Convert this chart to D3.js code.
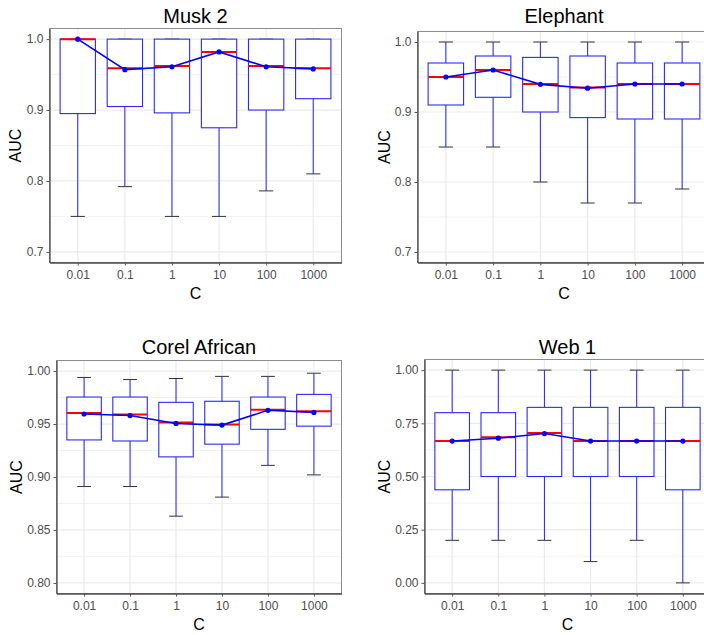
<!DOCTYPE html>
<html>
<head>
<meta charset="utf-8">
<script src="https://cdn.jsdelivr.net/npm/d3@7"></script>
<style>
  body { margin: 0; background: #fff; }
  text { font-family: "Liberation Sans", Arial, sans-serif; }
</style>
</head>
<body>
<script>
var cLevels = ["0.01", "0.1", "1", "10", "100", "1000"];

// Musk 2
var musk2Low    = [0.75, 0.792, 0.75, 0.75, 0.786, 0.81];
var musk2Q1     = [0.895, 0.905, 0.896, 0.875, 0.900, 0.916];
var musk2Median = [1.0, 0.959, 0.962, 0.982, 0.962, 0.959];
var musk2Q3     = [1.0, 1.0, 1.0, 1.0, 1.0, 1.0];
var musk2High   = [1.0, 1.0, 1.0, 1.0, 1.0, 1.0];
var musk2Mean   = [1.0, 0.957, 0.961, 0.982, 0.961, 0.958];

// Elephant
var elephantLow    = [0.85, 0.85, 0.80, 0.77, 0.77, 0.79];
var elephantQ1     = [0.91, 0.921, 0.90, 0.892, 0.89, 0.89];
var elephantMedian = [0.95, 0.96, 0.94, 0.935, 0.94, 0.94];
var elephantQ3     = [0.97, 0.98, 0.978, 0.98, 0.97, 0.97];
var elephantHigh   = [1.0, 1.0, 1.0, 1.0, 1.0, 1.0];
var elephantMean   = [0.95, 0.96, 0.9395, 0.934, 0.94, 0.94];

// Corel African
var corelLow    = [0.891, 0.891, 0.863, 0.881, 0.911, 0.902];
var corelQ1     = [0.935, 0.934, 0.919, 0.931, 0.945, 0.948];
var corelMedian = [0.9605, 0.959, 0.9515, 0.9495, 0.9635, 0.962];
var corelQ3     = [0.9755, 0.9755, 0.9705, 0.9715, 0.9755, 0.978];
var corelHigh   = [0.994, 0.992, 0.993, 0.995, 0.995, 0.998];
var corelMean   = [0.9595, 0.958, 0.9505, 0.949, 0.963, 0.961];

// Web 1
var web1Low    = [0.2, 0.2, 0.2, 0.1, 0.2, 0.0];
var web1Q1     = [0.4375, 0.5, 0.5, 0.5, 0.5, 0.4375];
var web1Median = [0.6667, 0.685, 0.705, 0.6667, 0.6667, 0.6667];
var web1Q3     = [0.8, 0.8, 0.825, 0.825, 0.825, 0.825];
var web1High   = [1.0, 1.0, 1.0, 1.0, 1.0, 1.0];
var web1Mean   = [0.6667, 0.68, 0.702, 0.6667, 0.6667, 0.6667];

var musk2Ticks = [0.7, 0.8, 0.9, 1.0];
var elephantTicks = [0.7, 0.8, 0.9, 1.0];
var corelTicks = [0.80, 0.85, 0.90, 0.95, 1.00];
var web1Ticks = [0.00, 0.25, 0.50, 0.75, 1.00];

function rows(low, q1, med, q3, high, mean) {
  return cLevels.map(function(c, i) {
    return {c: c, low: low[i], q1: q1[i], med: med[i], q3: q3[i], high: high[i], mean: mean[i]};
  });
}

var panels = [
  {title: "Musk 2", data: rows(musk2Low, musk2Q1, musk2Median, musk2Q3, musk2High, musk2Mean),
   ticks: musk2Ticks, fmt: ".1f", lim: [0.7, 1.0],
   box: {l: 49.5, r: 341.5, t: 28.5, b: 262.5}, titleY: 22.5, ylabX: 15},
  {title: "Elephant", data: rows(elephantLow, elephantQ1, elephantMedian, elephantQ3, elephantHigh, elephantMean),
   ticks: elephantTicks, fmt: ".1f", lim: [0.7, 1.0],
   box: {l: 417.5, r: 710.5, t: 31.5, b: 262.5}, titleY: 22.5, ylabX: 384.5},
  {title: "Corel African", data: rows(corelLow, corelQ1, corelMedian, corelQ3, corelHigh, corelMean),
   ticks: corelTicks, fmt: ".2f", lim: [0.8, 1.0],
   box: {l: 56.5, r: 341.5, t: 360.5, b: 593.5}, titleY: 353.5, ylabX: 16},
  {title: "Web 1", data: rows(web1Low, web1Q1, web1Median, web1Q3, web1High, web1Mean),
   ticks: web1Ticks, fmt: ".2f", lim: [0.0, 1.0],
   box: {l: 424.5, r: 710.5, t: 359.5, b: 593.5}, titleY: 353.5, ylabX: 384.5}
];

var svg = d3.select("body").append("svg")
  .attr("width", 704)
  .attr("height", 635);

panels.forEach(function(p) {
  var b = p.box;
  var span = p.lim[1] - p.lim[0];
  var y = d3.scaleLinear()
    .domain([p.lim[0] - span * 0.05, p.lim[1] + span * 0.05])
    .range([b.b, b.t]);
  // discrete axis: 0.6 units of padding each side like ggplot
  var x = d3.scalePoint()
    .domain(cLevels)
    .range([b.l, b.r])
    .padding(0.6);
  var step = x.step();
  var bw = step * 0.75, cw = step * 0.3;

  var g = svg.append("g");

  // grid
  var minor = [];
  for (var i = 0; i < p.ticks.length - 1; i++) minor.push((p.ticks[i] + p.ticks[i + 1]) / 2);
  g.selectAll(".minor").data(minor).enter().append("line")
    .attr("x1", b.l).attr("x2", b.r)
    .attr("y1", function(d) { return y(d); }).attr("y2", function(d) { return y(d); })
    .attr("stroke", "#f2f2f2").attr("stroke-width", 1);
  g.selectAll(".major").data(p.ticks).enter().append("line")
    .attr("x1", b.l).attr("x2", b.r)
    .attr("y1", function(d) { return y(d); }).attr("y2", function(d) { return y(d); })
    .attr("stroke", "#ebebeb").attr("stroke-width", 1.2);
  g.selectAll(".vgrid").data(cLevels).enter().append("line")
    .attr("x1", function(d) { return x(d); }).attr("x2", function(d) { return x(d); })
    .attr("y1", b.t).attr("y2", b.b)
    .attr("stroke", "#ebebeb").attr("stroke-width", 1.2);

  var bx = g.selectAll(".bx").data(p.data).enter().append("g");

  // whisker caps
  bx.append("line")
    .attr("x1", function(d) { return x(d.c) - cw / 2; }).attr("x2", function(d) { return x(d.c) + cw / 2; })
    .attr("y1", function(d) { return y(d.high); }).attr("y2", function(d) { return y(d.high); })
    .attr("stroke", "#333").attr("stroke-width", 1);
  bx.append("line")
    .attr("x1", function(d) { return x(d.c) - cw / 2; }).attr("x2", function(d) { return x(d.c) + cw / 2; })
    .attr("y1", function(d) { return y(d.low); }).attr("y2", function(d) { return y(d.low); })
    .attr("stroke", "#333").attr("stroke-width", 1);
  // whiskers
  bx.append("line")
    .attr("x1", function(d) { return x(d.c); }).attr("x2", function(d) { return x(d.c); })
    .attr("y1", function(d) { return y(d.high); }).attr("y2", function(d) { return y(d.low); })
    .attr("stroke", "#2222ff").attr("stroke-width", 1);
  // boxes
  bx.append("rect")
    .attr("x", function(d) { return x(d.c) - bw / 2; })
    .attr("width", bw)
    .attr("y", function(d) { return y(d.q3); })
    .attr("height", function(d) { return y(d.q1) - y(d.q3); })
    .attr("fill", "#fff").attr("stroke", "#2a2aff").attr("stroke-width", 1.1);
  // medians
  bx.append("line")
    .attr("x1", function(d) { return x(d.c) - bw / 2; }).attr("x2", function(d) { return x(d.c) + bw / 2; })
    .attr("y1", function(d) { return y(d.med); }).attr("y2", function(d) { return y(d.med); })
    .attr("stroke", "red").attr("stroke-width", 2);

  // mean line + points
  var line = d3.line()
    .x(function(d) { return x(d.c); })
    .y(function(d) { return y(d.mean); });
  g.append("path").datum(p.data)
    .attr("d", line)
    .attr("fill", "none").attr("stroke", "blue").attr("stroke-width", 1.6);
  g.selectAll(".mean").data(p.data).enter().append("circle")
    .attr("cx", function(d) { return x(d.c); })
    .attr("cy", function(d) { return y(d.mean); })
    .attr("r", 2.6)
    .attr("fill", "blue");

  // border
  g.append("rect")
    .attr("x", b.l).attr("y", b.t)
    .attr("width", b.r - b.l).attr("height", b.b - b.t)
    .attr("fill", "none").attr("stroke", "#8c8c8c").attr("stroke-width", 1);

  // axes
  var yAxis = d3.axisLeft(y).tickValues(p.ticks).tickFormat(d3.format(p.fmt))
    .tickSize(3).tickSizeOuter(0).tickPadding(3);
  var ya = g.append("g").attr("transform", "translate(" + b.l + ",0)").call(yAxis);
  var xAxis = d3.axisBottom(x).tickSize(3).tickSizeOuter(0).tickPadding(5);
  var xa = g.append("g").attr("transform", "translate(0," + b.b + ")").call(xAxis);
  [ya, xa].forEach(function(a) {
    a.select(".domain").attr("stroke", "#4d4d4d").attr("stroke-width", 1.3);
    a.selectAll(".tick line").attr("stroke", "#555");
    a.selectAll(".tick text").attr("fill", "#4d4d4d").style("font-size", "12px")
      .style("font-family", "'Liberation Sans', Arial, sans-serif");
  });

  // titles
  var cx = (b.l + b.r) / 2, cy = (b.t + b.b) / 2;
  g.append("text").attr("x", cx).attr("y", p.titleY)
    .attr("text-anchor", "middle").style("font-size", "20px").attr("fill", "#000")
    .text(p.title);
  g.append("text").attr("x", cx).attr("y", b.b + 36)
    .attr("text-anchor", "middle").style("font-size", "16px").attr("fill", "#000")
    .text("C");
  g.append("text")
    .attr("transform", "translate(" + (p.ylabX + 5.5) + "," + cy + ") rotate(-90)")
    .attr("text-anchor", "middle").style("font-size", "16px").attr("fill", "#000")
    .text("AUC");
});
</script>
</body>
</html>
